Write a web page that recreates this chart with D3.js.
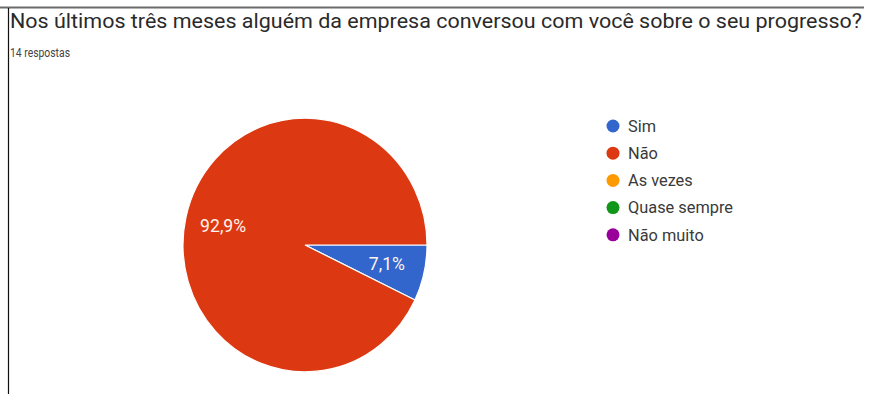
<!DOCTYPE html>
<html>
<head>
<meta charset="utf-8">
<script src="https://cdn.jsdelivr.net/npm/d3@7"></script>
<style>
  html, body { margin: 0; padding: 0; background: #fff; }
  svg { display: block; font-family: Roboto, "Noto Sans", Arial, sans-serif; }
</style>
</head>
<body>
<svg id="chart" width="869" height="394"></svg>
<script>
// Survey answers
const titleText = "Nos últimos três meses alguém da empresa conversou com você sobre o seu progresso?";
const subtitleText = "14 respostas";
const categories = ["Sim", "Não", "As vezes", "Quase sempre", "Não muito"];
const counts = [1, 13, 0, 0, 0];
const colors = ["#3366cc", "#dc3912", "#ff9900", "#109618", "#990099"];

const svg = d3.select("#chart");
const W = 869, H = 394;

// Card frame: top rule and left edge
svg.append("line").attr("x1", 0).attr("x2", 864).attr("y1", 7.5).attr("y2", 7.5)
  .attr("stroke", "#6b6b6b").attr("stroke-width", 2);
svg.append("line").attr("x1", 8.5).attr("x2", 8.5).attr("y1", 8).attr("y2", H)
  .attr("stroke", "#111").attr("stroke-width", 1.2);

// Question title, fitted to the card width
svg.append("text")
  .attr("x", 10).attr("y", 28)
  .attr("font-size", 19.5).attr("fill", "#2a2a2a")
  .attr("textLength", 852).attr("lengthAdjust", "spacingAndGlyphs")
  .text(titleText);

svg.append("text")
  .attr("x", 10).attr("y", 57)
  .attr("font-size", 12).attr("fill", "#444")
  .attr("textLength", 60).attr("lengthAdjust", "spacingAndGlyphs")
  .text(subtitleText);

// Pie
const total = d3.sum(counts);
const data = categories.map((c, i) => ({ name: c, value: counts[i], color: colors[i] }));
const pie = d3.pie().value(d => d.value).sort(null)
  .startAngle(Math.PI / 2).endAngle(Math.PI / 2 + 2 * Math.PI);
const arcs = pie(data).filter(a => a.data.value > 0);

const radius = 122;
const arc = d3.arc().innerRadius(0).outerRadius(radius);
const labelArc = d3.arc().innerRadius(84).outerRadius(84);

const g = svg.append("g").attr("transform", "translate(305,245) scale(1,1.04)");
g.selectAll("path.slice").data(arcs).join("path")
  .attr("class", "slice")
  .attr("d", arc)
  .attr("fill", d => d.data.color)
  .attr("stroke", "#fff").attr("stroke-width", 1.2);

const fmt = v => (v / total * 100).toFixed(1).replace(".", ",") + "%";
const pct = g.selectAll("text.pct").data(arcs).join("text")
  .attr("class", "pct")
  .attr("transform", d => { const [x, y] = labelArc.centroid(d); return `translate(${x},${y / 1.04}) scale(1,${1 / 1.04})`; })
  .attr("text-anchor", "middle").attr("dy", "0.35em")
  .attr("font-size", 12.5).attr("fill", "#fff4ee")
  .text(d => fmt(d.data.value));
// "92,9%" is about 46px wide; size both labels alike
const big = pct.filter(d => d.data.value === 13).node();
const scaleF = 46 / big.getComputedTextLength();
pct.attr("font-size", (12.5 * scaleF).toFixed(2));

// Legend
const legend = svg.append("g").attr("transform", "translate(613,126)");
const item = legend.selectAll("g").data(data).join("g")
  .attr("transform", (d, i) => `translate(0,${i * 27.2})`);
item.append("circle").attr("r", 6.5).attr("fill", d => d.color);
const lt = item.append("text").attr("x", 15).attr("dy", "0.35em")
  .attr("font-size", 13).attr("fill", "#3a3a3a")
  .text(d => d.name);
// "Quase sempre" spans about 105px
const ref = lt.filter(d => d.name === "Quase sempre").node();
const lf = 105 / ref.getComputedTextLength();
lt.attr("font-size", (13 * lf).toFixed(2));
</script>
</body>
</html>
